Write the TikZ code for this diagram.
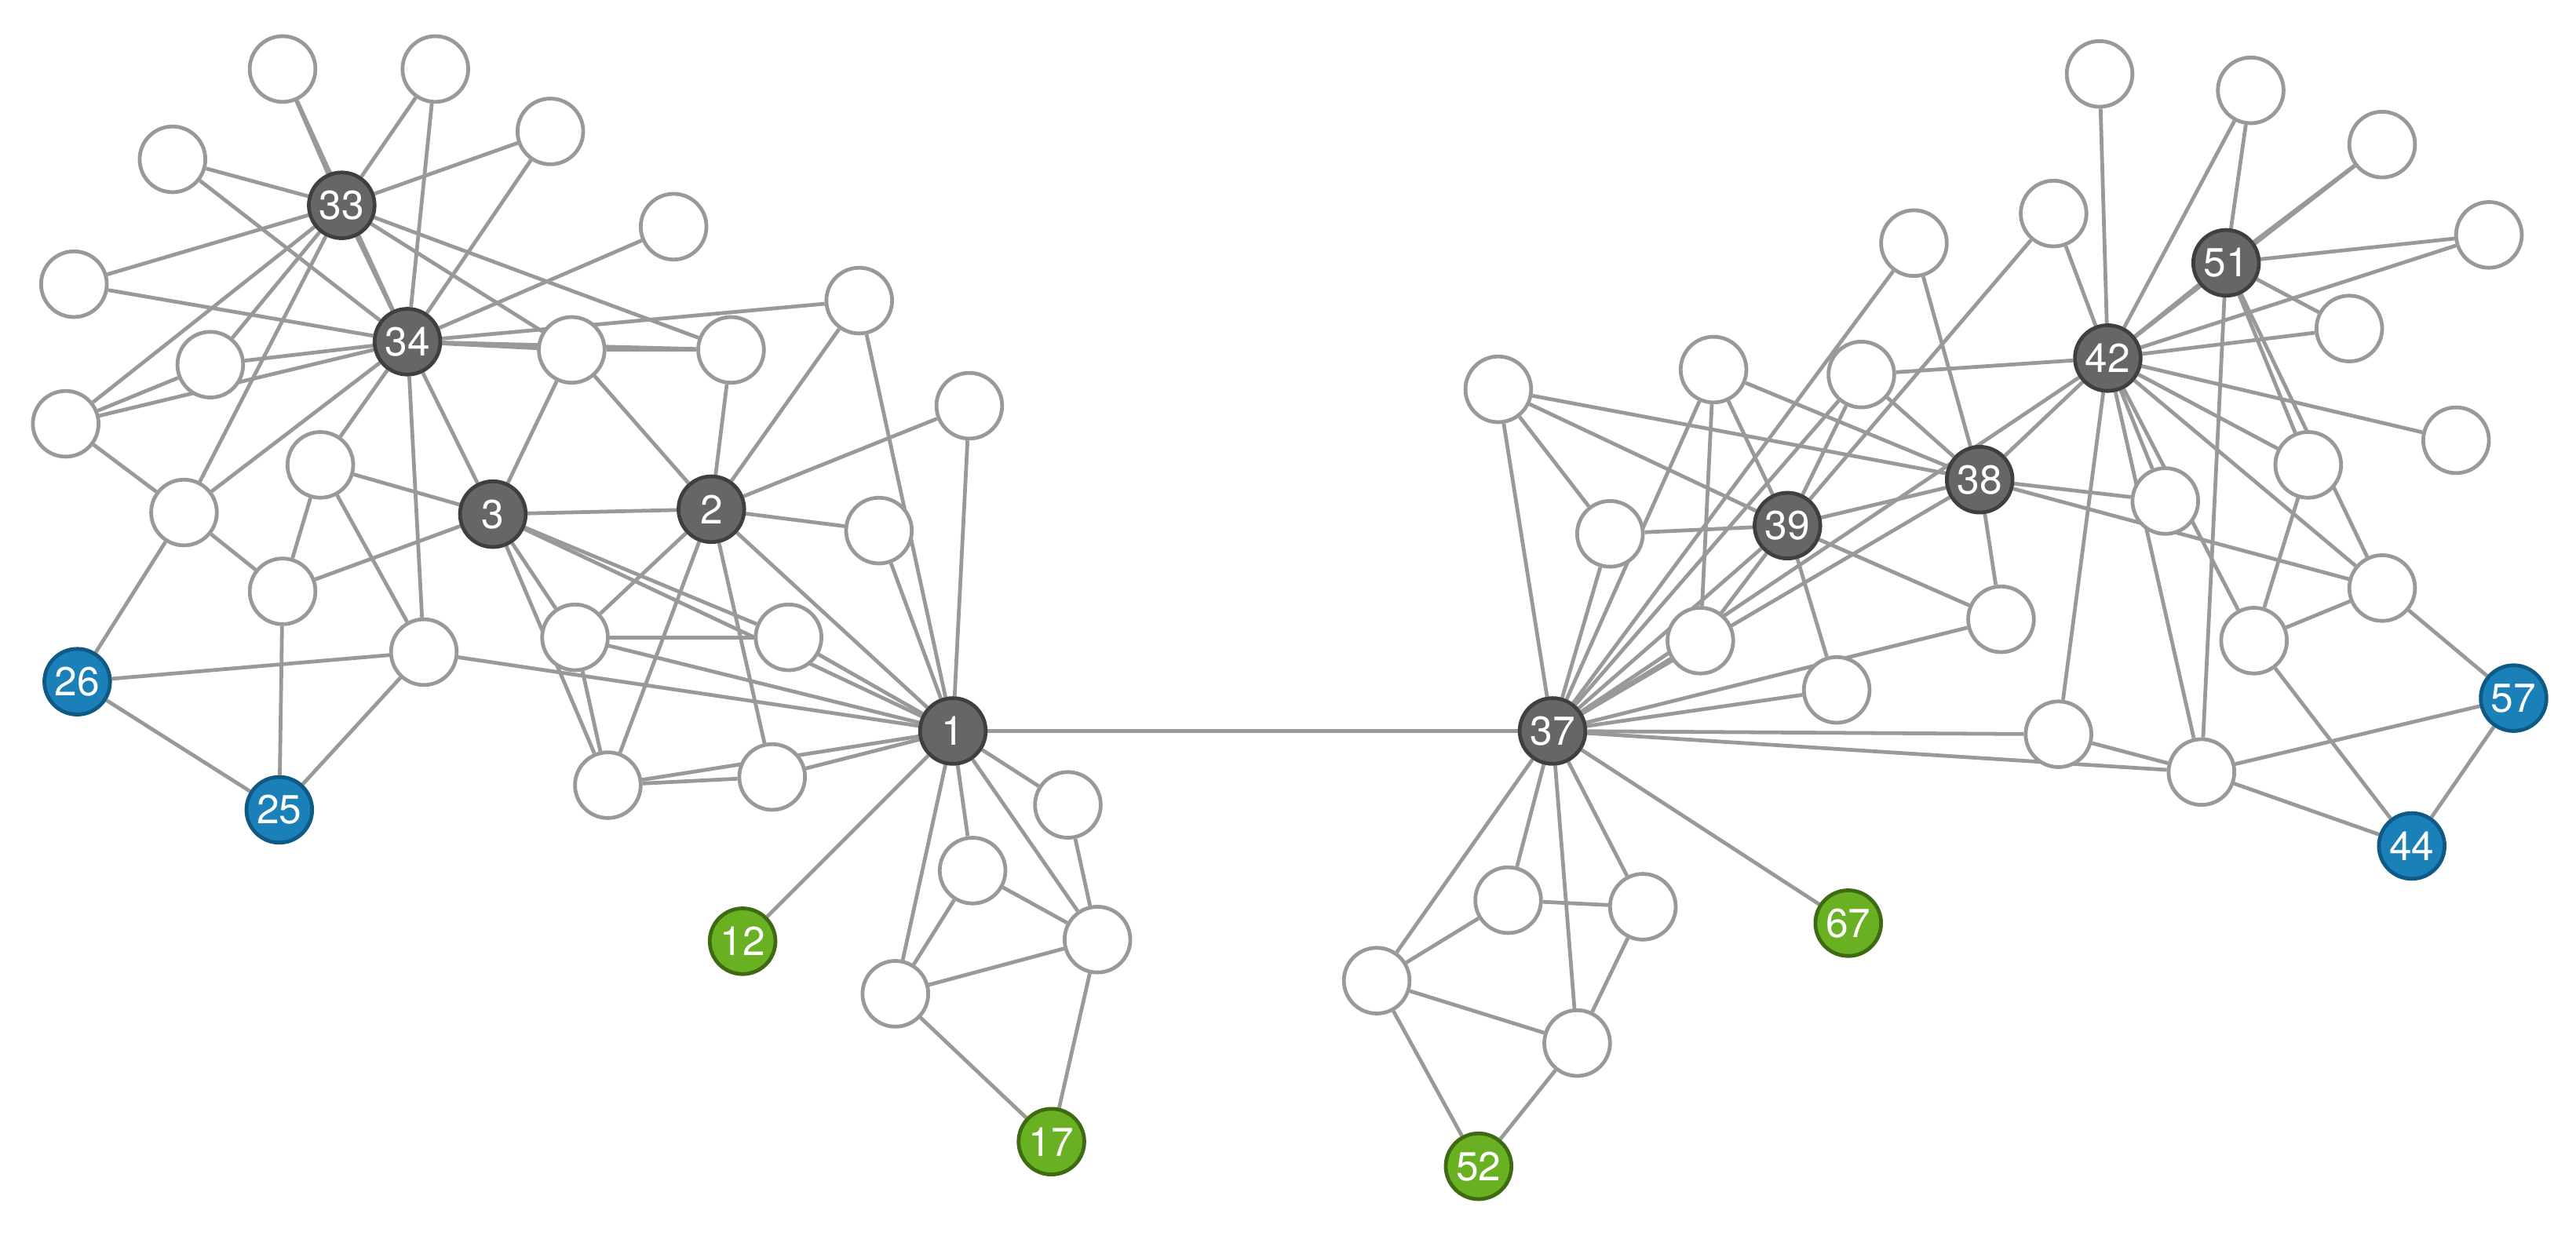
\documentclass[tikz,border=0pt]{standalone}
\usepackage{fontspec}
\setmainfont{TeX Gyre Heros}
\usetikzlibrary{backgrounds}
\definecolor{edgegray}{HTML}{999999}
\definecolor{hubfill}{HTML}{666666}
\definecolor{hubline}{HTML}{3F3F3F}
\definecolor{bluefill}{HTML}{1B80B8}
\definecolor{blueline}{HTML}{0E5A85}
\definecolor{greenfill}{HTML}{6AB023}
\definecolor{greenline}{HTML}{3E6B12}
\tikzset{vertex/.style={circle,minimum size=0.8cm,inner sep=0pt,line width=1.3pt,draw=edgegray,fill=white,text=white,font=\fontsize{14}{14}\selectfont},
         hub/.style={vertex,fill=hubfill,draw=hubline},
         blue/.style={vertex,fill=bluefill,draw=blueline},
         green/.style={vertex,fill=greenfill,draw=greenline},
         link/.style={edgegray,line width=1.3pt}}

\begin{document}
\begin{tikzpicture}[x=0.02cm,y=-0.02cm]
        \useasboundingbox (0,0) rectangle (1568,752);
        % left group
        \node[hub] (n1) at (580,445) {1};
        \node[hub] (n2) at (433,310) {2};
        \node[hub] (n3) at (300,313) {3};
        \node[hub] (n34) at (248,208) {34};
        \node[hub] (n33) at (208,125) {33};
        \node[blue] (n26) at (47,415) {26};
        \node[blue] (n25) at (170,493) {25};
        \node[green] (n12) at (452,573) {12};
        \node[green] (n17) at (640,695) {17};
        \foreach \n/\x/\y in {a1/172/42,a2/265/42,a3/335/80,a4/105/97,a5/410/138,a6/45/173,a7/128/222,
            a8/348/213,a9/445/213,a10/523/183,a11/40/258,a12/195/283,a13/590/247,a14/112/312,a15/535/323,
            a16/172/360,a17/258/397,a18/350/388,a19/480/388,a20/370/478,a21/470/473,a22/650/490,
            a23/592/530,a24/668/572,a25/545/605}
            \node[vertex] (\n) at (\x,\y) {};
        % right group
        \node[hub] (n37) at (945,445) {37};
        \node[hub] (n39) at (1088,320) {39};
        \node[hub] (n38) at (1205,292) {38};
        \node[hub] (n42) at (1283,218) {42};
        \node[hub] (n51) at (1355,160) {51};
        \node[blue] (n57) at (1530,425) {57};
        \node[blue] (n44) at (1468,515) {44};
        \node[green] (n67) at (1125,562) {67};
        \node[green] (n52) at (900,710) {52};
        \foreach \n/\x/\y in {b1/1278/45,b2/1370/55,b3/1450/88,b4/1515/143,b5/1165/148,b6/1250/130,
            b7/1430/200,b8/912/237,b9/1043/225,b10/1133/228,b11/1495/268,b12/980/325,b13/1405/283,
            b14/1318/305,b15/1035/390,b16/1218/377,b17/1450/358,b18/1118/420,b19/1372/390,
            b20/1253/447,b21/1340/470,b22/918/548,b23/1000/552,b24/838/597,b25/960/635}
            \node[vertex] (\n) at (\x,\y) {};
        \begin{scope}[on background layer]
            \draw[link] (n1) -- (n37);
            \foreach \a/\b in {n1/n2,n1/n3,n1/a10,n1/a13,n1/a15,n1/a19,n1/a21,n1/a20,n1/a17,n1/a18,n1/n12,
                n1/a22,n1/a23,n1/a24,n1/a25,n2/a9,n2/a10,n2/a13,n2/a15,n2/n3,n2/a18,n2/a20,n2/a21,n2/a8,
                n3/n34,n3/a8,n3/a12,n3/a16,n3/a18,n3/a20,n3/a19,n34/n33,n34/a1,n34/a2,n34/a3,n34/a5,
                n34/a4,n34/a6,n34/a7,n34/a11,n34/a12,n34/a14,n34/a17,n34/a8,n34/a9,n34/a10,
                n33/a1,n33/a2,n33/a3,n33/a4,n33/a6,n33/a7,n33/a11,n33/a14,n33/a8,n33/a9,
                a14/a11,a14/n26,a14/a16,a7/a11,n26/a17,n26/n25,n25/a16,n25/a17,a12/a17,a16/a12,
                a22/a24,a23/a24,a24/n17,a25/n17,a25/a24,a25/a23,a20/a21,a20/a18,a19/a18,a8/a9}
                \draw[link] (\a) -- (\b);
            \foreach \a/\b in {n37/b8,n37/b12,n37/b9,n37/b15,n37/b18,n37/b16,n37/b20,n37/b21,n37/n39,
                n37/n38,n37/b22,n37/b23,n37/b24,n37/b25,n37/n67,n37/b10,n37/b5,
                n39/b9,n39/b8,n39/b10,n39/n38,n39/b15,n39/b16,n39/b18,n39/b12,n39/b6,
                n38/b5,n38/b8,n38/b9,n38/n42,n38/b14,n38/b16,n38/b17,n38/b10,
                n42/b1,n42/b2,n42/b3,n42/b4,n42/b6,n42/n51,n42/b7,n42/b13,n42/b14,n42/b20,n42/b21,
                n42/b17,n42/b19,n42/b11,n42/b10,n42/n37,
                n51/b2,n51/b3,n51/b4,n51/b7,n51/b13,n51/b17,n51/b21,
                b17/n57,b17/b19,b19/n44,b19/b13,b21/n44,b21/n57,b21/b20,n44/n57,
                b22/b23,b22/b24,b24/n52,b25/n52,b25/b23,b24/b25,b8/b12,b15/b9}
                \draw[link] (\a) -- (\b);
        \end{scope}
\end{tikzpicture}
\end{document}
